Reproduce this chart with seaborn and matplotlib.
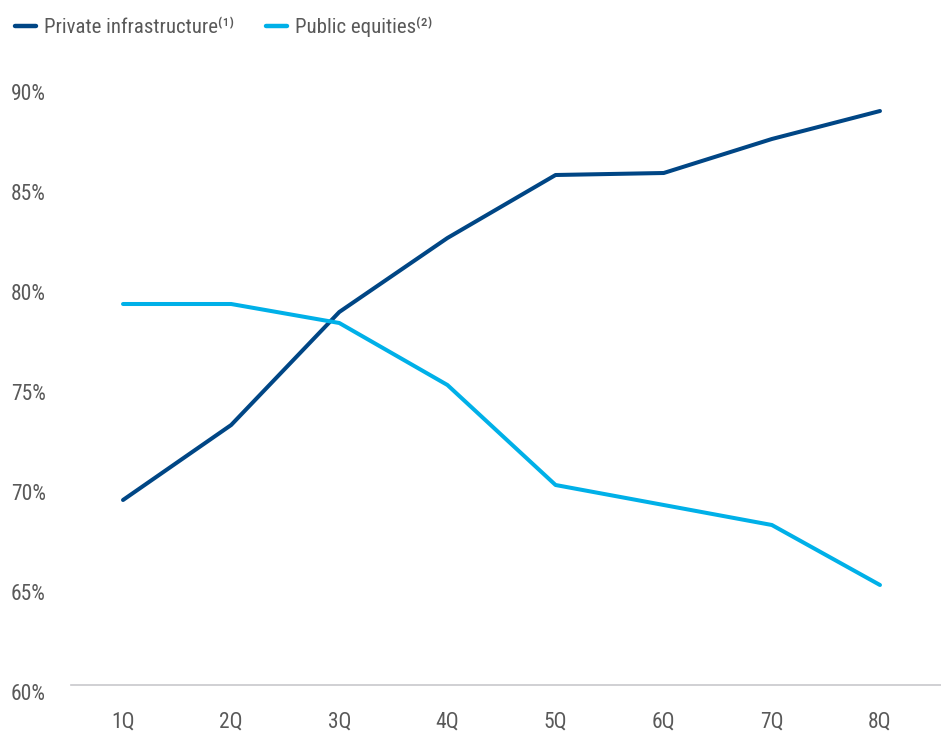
import matplotlib
matplotlib.use("Agg")
import matplotlib.pyplot as plt
import matplotlib.transforms as mtransforms
import seaborn as sns
import pandas as pd

quarters = ["1Q", "2Q", "3Q", "4Q", "5Q", "6Q", "7Q", "8Q"]
private_infra = [69.25, 73.0, 78.65, 82.35, 85.5, 85.6, 87.3, 88.7]
public_equities = [79.05, 79.05, 78.1, 75.0, 70.0, 69.0, 68.0, 65.0]
series_names = ["Private infrastructure\u207d\u00b9\u207e", "Public equities\u207d\u00b2\u207e"]
y_ticks = [60, 65, 70, 75, 80, 85, 90]

sns.set_theme(style="white")
FONT = ["Roboto Condensed", "Lato", "DejaVu Sans"]
plt.rcParams["font.family"] = FONT
TEXT = "#595959"

df = pd.DataFrame({
    "quarter": quarters * 2,
    "idx": list(range(len(quarters))) * 2,
    "value": private_infra + public_equities,
    "series": [series_names[0]] * len(quarters) + [series_names[1]] * len(quarters),
})

fig = plt.figure(figsize=(9.41, 7.40), dpi=100)
W, H = 941, 740
ax = fig.add_axes([71 / W, 1 - 685 / H, (941 - 71) / W, (685 - 85) / H])

sns.lineplot(data=df, x="idx", y="value", hue="series",
             palette=["#004685", "#00b0e8"], linewidth=2.9, ax=ax,
             solid_capstyle="round", legend=True)

ax.set_xlim(-52 / 108.1, 7 + 61 / 108.1)
ax.set_ylim(60, 90)
ax.set_xticks(range(len(quarters)))
ax.set_xticklabels(quarters)
ax.set_yticks(y_ticks)
ax.set_yticklabels([f"{v}%" for v in y_ticks])
ax.set_xlabel("")
ax.set_ylabel("")
for s in ["top", "right", "left"]:
    ax.spines[s].set_visible(False)
ax.spines["bottom"].set_color("#c8c8cc")
ax.spines["bottom"].set_linewidth(1.2)
ax.tick_params(axis="both", length=0, labelsize=15.5, labelcolor=TEXT)
ax.tick_params(axis="x", pad=19)
ax.tick_params(axis="y", pad=18)
for lab in ax.get_yticklabels():
    lab.set_horizontalalignment("right")
    lab.set_transform(lab.get_transform() + mtransforms.ScaledTranslation(0, -7 / 100, fig.dpi_scale_trans))
ax.grid(False)

handles, labels = ax.get_legend_handles_labels()
leg = ax.legend(handles, labels, loc="upper left", bbox_to_anchor=(7 / W, 1 - 8 / H),
                bbox_transform=fig.transFigure, ncol=2, frameon=False,
                prop={"family": FONT, "size": 15}, handlelength=1.0, handletextpad=0.4,
                columnspacing=1.5, borderaxespad=0)
for t in leg.get_texts():
    t.set_color(TEXT)
for l in leg.get_lines():
    l.set_linewidth(3.2)
    l.set_solid_capstyle("round")

fig.savefig("out.png", dpi=100)
